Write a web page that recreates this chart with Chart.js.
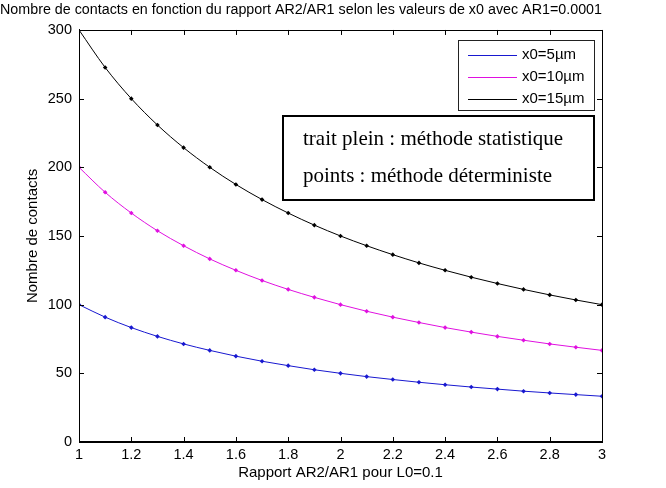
<!DOCTYPE html>
<html>
<head>
<meta charset="utf-8">
<script src="https://cdn.jsdelivr.net/npm/chart.js@4.4.0/dist/chart.umd.min.js"></script>
<style>
  html, body { margin: 0; padding: 0; background: #fff; }
  #wrap { width: 666px; height: 488px; }
</style>
</head>
<body>
<div id="wrap"><canvas id="graf"></canvas></div>
<script>
/* ===============================
   DONNÉES
=============================== */
const rapports = [1, 1.1, 1.2, 1.3, 1.4, 1.5, 1.6, 1.7, 1.8, 1.9, 2, 2.1, 2.2, 2.3, 2.4, 2.5, 2.6, 2.7, 2.8, 2.9, 3];
const contacts5 = [100, 90.9, 83.3, 76.9, 71.4, 66.7, 62.5, 58.8, 55.6, 52.6, 50, 47.6, 45.5, 43.5, 41.7, 40, 38.5, 37, 35.7, 34.5, 33.3];
const contacts10 = [200, 181.8, 166.7, 153.8, 142.9, 133.3, 125, 117.6, 111.1, 105.3, 100, 95.2, 90.9, 87, 83.3, 80, 76.9, 74.1, 71.4, 69, 66.7];
const contacts15 = [300, 272.7, 250, 230.8, 214.3, 200, 187.5, 176.5, 166.7, 157.9, 150, 142.9, 136.4, 130.4, 125, 120, 115.4, 111.1, 107.1, 103.4, 100];
const libelles = ["x0=5µm", "x0=10µm", "x0=15µm"];
const ticksX = [1, 1.2, 1.4, 1.6, 1.8, 2, 2.2, 2.4, 2.6, 2.8, 3];
const ticksY = [0, 50, 100, 150, 200, 250, 300];
const notes = ["trait plein : méthode statistique", "points : méthode déterministe"];

const couleurs = ["#1818d0", "#e010e0", "#000000"];
const series = [contacts5, contacts10, contacts15];
const pts = s => rapports.map((x, i) => ({ x, y: s[i] }));

const datasets = [];
series.forEach((s, i) => {
  datasets.push({
    label: libelles[i], data: pts(s), borderColor: couleurs[i], borderWidth: 1,
    pointRadius: 0, cubicInterpolationMode: "monotone", showLine: true
  });
});
series.forEach((s, i) => {
  datasets.push({
    label: "pts" + i, data: pts(s), showLine: false, pointStyle: "rectRot",
    pointRadius: 2.3, borderWidth: 0, backgroundColor: couleurs[i]
  });
});

/* ===============================
   PLUGIN : cadre, graduations, légende, encadré
=============================== */
const cadreMatlab = {
  id: "cadreMatlab",
  afterDraw(chart) {
    const ctx = chart.ctx;
    const a = chart.chartArea;
    const sx = chart.scales.x, sy = chart.scales.y;
    ctx.save();
    ctx.strokeStyle = "#000";
    ctx.lineWidth = 1;
    ctx.strokeRect(Math.round(a.left) + 0.5, Math.round(a.top) + 0.5, Math.round(a.right - a.left), Math.round(a.bottom - a.top));
    ctx.beginPath();
    ticksX.forEach(v => {
      const px = Math.round(sx.getPixelForValue(v)) + 0.5;
      ctx.moveTo(px, a.bottom); ctx.lineTo(px, a.bottom - 5);
      ctx.moveTo(px, a.top); ctx.lineTo(px, a.top + 5);
    });
    ticksY.forEach(v => {
      const py = Math.round(sy.getPixelForValue(v)) + 0.5;
      ctx.moveTo(a.left, py); ctx.lineTo(a.left + 5, py);
      ctx.moveTo(a.right, py); ctx.lineTo(a.right - 5, py);
    });
    ctx.stroke();

    // légende
    const lx = Math.round(a.right) - 144, ly = Math.round(a.top) + 10, lw = 136, lh = 70;
    ctx.fillStyle = "#fff";
    ctx.fillRect(lx, ly, lw, lh);
    ctx.strokeStyle = "#222";
    ctx.strokeRect(lx + 0.5, ly + 0.5, lw, lh);
    ctx.font = "15px 'Liberation Sans', Arial, sans-serif";
    ctx.textBaseline = "middle";
    libelles.forEach((t, i) => {
      const yy = ly + 15 + i * 22;
      ctx.strokeStyle = couleurs[i];
      ctx.beginPath(); ctx.moveTo(lx + 10, yy + 0.5); ctx.lineTo(lx + 59, yy + 0.5); ctx.stroke();
      ctx.fillStyle = "#000";
      ctx.fillText(t, lx + 64, yy);
    });

    // encadré
    const bx = Math.round(a.left) + 204, by = Math.round(a.top) + 86, bw = 311, bh = 84;
    ctx.fillStyle = "#fff";
    ctx.fillRect(bx, by, bw, bh);
    ctx.strokeStyle = "#000";
    ctx.lineWidth = 2;
    ctx.strokeRect(bx, by, bw, bh);
    ctx.fillStyle = "#000";
    ctx.font = "21px 'Liberation Serif', 'Times New Roman', serif";
    notes.forEach((t, i) => ctx.fillText(t, bx + 20, by + 23 + i * 37));
    ctx.restore();
  }
};

/* ===============================
   GRAPHIQUE
=============================== */
const police = { family: "'Liberation Sans', Arial, sans-serif", size: 14.5 };
const policeTitre = { family: "'Liberation Sans', Arial, sans-serif", size: 15 };

new Chart(document.getElementById("graf"), {
  type: "line",
  data: { datasets },
  options: {
    responsive: true,
    maintainAspectRatio: false,
    animation: false,
    layout: { padding: { left: 0, right: 64, top: 0, bottom: 0 } },
    plugins: {
      legend: { display: false },
      tooltip: { enabled: false },
      title: {
        display: true,
        text: "Nombre de contacts en fonction du rapport AR2/AR1 selon les valeurs de x0 avec AR1=0.0001",
        color: "#000",
        font: { family: police.family, size: 15.3, weight: "normal" },
        padding: { top: 1, bottom: 10.6 }
      }
    },
    scales: {
      x: {
        type: "linear", min: 1, max: 3,
        afterBuildTicks: s => { s.ticks = ticksX.map(v => ({ value: v })); },
        afterFit: s => { s.height = 46; },
        grid: { drawOnChartArea: false, drawTicks: false },
        border: { color: "#000" },
        ticks: { color: "#000", font: police, padding: 4, maxRotation: 0, callback: v => String(v) },
        title: { display: true, text: "Rapport AR2/AR1 pour L0=0.1", color: "#000", font: policeTitre, padding: { top: 0, bottom: 6 } }
      },
      y: {
        min: 0, max: 300,
        afterBuildTicks: s => { s.ticks = ticksY.map(v => ({ value: v })); },
        afterFit: s => { s.width = 79; },
        grid: { drawOnChartArea: false, drawTicks: false },
        border: { color: "#000" },
        ticks: { color: "#000", font: police, padding: 7 },
        title: { display: true, text: "Nombre de contacts", color: "#000", font: policeTitre, padding: { top: 24, bottom: 0 } }
      }
    }
  },
  plugins: [cadreMatlab]
});
</script>
</body>
</html>
